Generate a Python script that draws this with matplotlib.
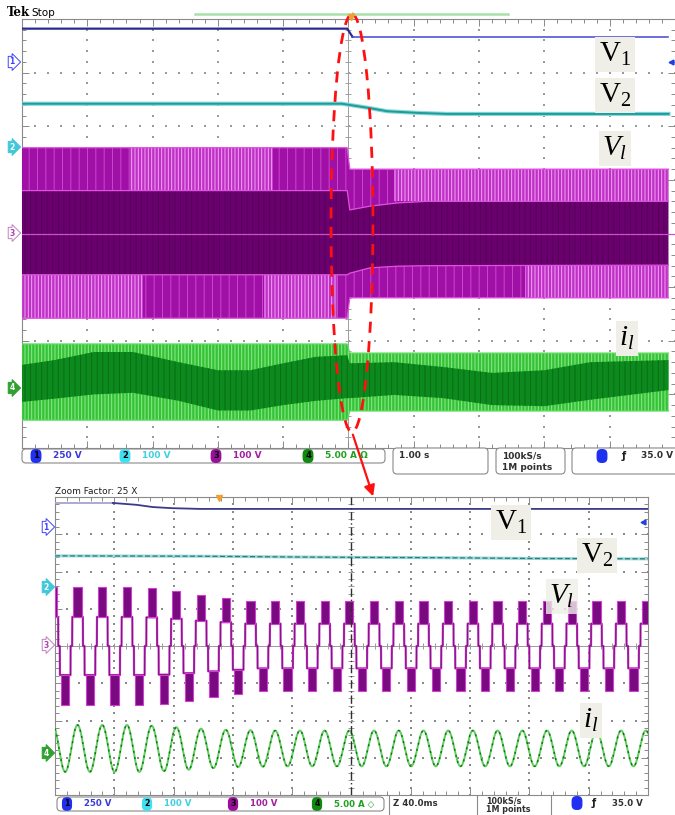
import numpy as np
import matplotlib.pyplot as plt
from matplotlib.patches import Ellipse, FancyBboxPatch

plt.rcParams['hatch.linewidth'] = 0.7
plt.rcParams['mathtext.fontset'] = 'custom'
plt.rcParams['mathtext.rm'] = 'Liberation Serif'
plt.rcParams['mathtext.it'] = 'Liberation Serif:italic'

# ---------------- overview record, 1 s/div (time in s, level in divisions)
ov_v1_t = [-5, -0.02, 0.06, 4.9]
ov_v1 = [3.82, 3.82, 3.67, 3.67]
ov_v2_t = [-5, -0.1, 0.32, 0.59, 1.05, 1.5, 4.9]
ov_v2 = [2.42, 2.42, 2.34, 2.28, 2.25, 2.23, 2.23]

ov_vl_t = [-5, -0.02, 0.02, 0.33, 0.75, 1.2, 4.9]
ov_vl_outer_hi = [1.6, 1.6, 1.2, 1.2, 1.2, 1.2, 1.2]
ov_vl_inner_hi = [0.8, 0.8, 0.44, 0.51, 0.57, 0.6, 0.6]
ov_vl_inner_lo = [-0.77, -0.77, -0.74, -0.64, -0.61, -0.6, -0.59]
ov_vl_outer_lo = [-1.58, -1.58, -1.2, -1.2, -1.2, -1.2, -1.2]
# stretches where the purple band shows light stripes
ov_vl_light_hi = [(-3.35, -1.15), (0.7, 4.9)]
ov_vl_light_lo = [(-5, -3.15), (-1.3, -0.17), (2.7, 4.9)]

ov_il_t = [-5, -4.5, -3.9, -3.3, -2.6, -2.0, -1.5, -1.0, -0.5, -0.02,
           0.02, 0.7, 1.45, 2.2, 3.0, 3.7, 4.9]
ov_il_outer_hi = [-2.06] * 10 + [-2.23] * 7
ov_il_outer_lo = [-3.48] * 10 + [-3.31] * 7
ov_il_inner_hi = [-2.45, -2.36, -2.21, -2.21, -2.40, -2.55, -2.55, -2.42, -2.30, -2.27,
                  -2.42, -2.40, -2.49, -2.60, -2.55, -2.40, -2.36]
ov_il_inner_lo = [-3.14, -3.08, -3.00, -2.97, -3.12, -3.30, -3.30, -3.20, -3.12, -3.07,
                  -3.07, -3.01, -3.07, -3.20, -3.22, -3.10, -2.92]

# ---------------- zoomed window, 40 ms/div (time in ms)
zm_v1_t = [-200, -161, -145, -134, -121, -102, 200]
zm_v1 = [3.84, 3.84, 3.79, 3.73, 3.70, 3.68, 3.68]
zm_v2_t = [-200, -100, -40, 0, 60, 120, 200]
zm_v2 = [2.42, 2.41, 2.39, 2.38, 2.37, 2.35, 2.34]
zm_first_peak = -184.8
zm_period = 1000 / 60
zm_vl_top = [1.58, 1.58, 1.58, 1.56, 1.48, 1.37, 1.29, 1.21, 1.21, 1.21, 1.21, 1.21,
             1.21, 1.21, 1.21, 1.21, 1.21, 1.21, 1.21, 1.21, 1.21, 1.21, 1.21, 1.21]
zm_vl_step = [0.78, 0.78, 0.78, 0.77, 0.73, 0.68, 0.64, 0.60, 0.60, 0.60, 0.60, 0.60,
              0.60, 0.60, 0.60, 0.60, 0.60, 0.60, 0.60, 0.60, 0.60, 0.60, 0.60, 0.60]
zm_il_amp = [0.63, 0.63, 0.63, 0.61, 0.57, 0.53, 0.50, 0.49, 0.48, 0.48, 0.48, 0.48,
             0.48, 0.48, 0.48, 0.48, 0.48, 0.48, 0.48, 0.48, 0.48, 0.48, 0.48, 0.48]
zm_il_center = -2.75

W, H = 675, 815
fig = plt.figure(figsize=(W / 100, H / 100), dpi=100)


def px_axes(x0, y0, x1, y1):
    return fig.add_axes([x0 / W, 1 - y1 / H, (x1 - x0) / W, (y1 - y0) / H])


def scope_grid(ax, xmin, xmax, xdiv, dot_color, center_color):
    ax.set_facecolor('white')
    ax.set_ylim(-4, 4)
    ax.set_xlim(xmin, xmax)
    xs = np.arange(-5, 5) * xdiv
    for xi in xs[1:]:
        if xi == 0:
            continue
        yy = np.arange(-4, 4.01, 0.2)
        ax.scatter(np.full_like(yy, xi), yy, s=0.9, c=dot_color, marker='s', lw=0, zorder=1)
    for yi in [-3, -2, -1, 1, 2, 3]:
        xx = np.arange(-5, 5.01, 0.2) * xdiv
        ax.scatter(xx, np.full_like(xx, yi), s=0.9, c=dot_color, marker='s', lw=0, zorder=1)
    ax.axhline(0, color=center_color, lw=0.7, zorder=1)
    ax.plot(np.arange(-5, 5.01, 0.2) * xdiv, np.zeros(51), ls='', marker='|',
            ms=5, mew=0.7, color=center_color, zorder=1)
    ax.plot(np.zeros(41), np.arange(-4, 4.01, 0.2), ls='', marker='_',
            ms=5, mew=0.7, color=center_color, zorder=1)
    ax.set_xticks(np.arange(-5, 6) * xdiv)
    ax.set_xticks(np.arange(-5, 5.01, 0.2) * xdiv, minor=True)
    ax.set_yticks(np.arange(-4, 5))
    ax.set_yticks(np.arange(-4, 4.01, 0.2), minor=True)
    ax.tick_params(which='both', direction='in', top=True, right=True,
                   labelbottom=False, labelleft=False, color='#8a8a8a', width=0.7)
    ax.tick_params(which='major', length=5)
    ax.tick_params(which='minor', length=3)
    for s in ax.spines.values():
        s.set_color('#8a8a8a')
        s.set_linewidth(0.8)


def band(ax, t, lo, hi, fc, hc, hatch, z):
    ax.fill_between(t, lo, hi, facecolor=fc, edgecolor='none', lw=0, zorder=z)
    if hatch:
        ax.fill_between(t, lo, hi, facecolor='none', edgecolor=hc, hatch=hatch,
                        lw=0, zorder=z + 0.1)


# ================= overview panel
ax1 = px_axes(22, 19, 675, 448)
scope_grid(ax1, -5, 4.894, 1, '#9a9a9a', '#a0a0a0')
ax1.spines['right'].set_visible(False)
ax1.axvline(0, color='#a0a0a0', lw=0.7, zorder=1)

ax1.plot(ov_v1_t[:3], ov_v1[:3], color='#2a2a90', lw=1.6, zorder=6)
ax1.plot(ov_v1_t[2:], ov_v1[2:], color='#4646d2', lw=1.1, zorder=6)
ax1.plot(ov_v2_t, ov_v2, color='#8ad6d6', lw=3.0, zorder=5)
ax1.plot(ov_v2_t, ov_v2, color='#1c9c9c', lw=1.4, zorder=6)

band(ax1, ov_vl_t, ov_vl_inner_hi, ov_vl_outer_hi, '#a010a6', '#c848cc', '||', 3)
band(ax1, ov_vl_t, ov_vl_outer_lo, ov_vl_inner_lo, '#a010a6', '#c848cc', '||', 3)
for a, b in ov_vl_light_hi:
    hi = 1.6 if b < 0 else 1.2
    lo = 0.8 if b < 0 else 0.6
    band(ax1, [a, b], [lo, lo], [hi, hi], '#c030c8', '#f0a8f0', '|||||', 3.3)
for a, b in ov_vl_light_lo:
    hi = -0.77 if b < 0 else -0.6
    lo = -1.58 if b < 0 else -1.2
    band(ax1, [a, b], [lo, lo], [hi, hi], '#c030c8', '#f0a8f0', '|||||', 3.3)
band(ax1, ov_vl_t, ov_vl_inner_lo, ov_vl_inner_hi, '#6a006e', '#540058', '|||', 3.6)
for edge in (ov_vl_outer_hi, ov_vl_inner_hi, ov_vl_inner_lo, ov_vl_outer_lo):
    ax1.plot(ov_vl_t, edge, color='#e050e0', lw=0.9, zorder=4)
ax1.axhline(0, color='#c850c8', lw=0.9, zorder=4)

band(ax1, ov_il_t, ov_il_outer_lo, ov_il_outer_hi, '#36c236', '#90ea90', '|||||', 3)
band(ax1, ov_il_t, ov_il_inner_lo, ov_il_inner_hi, '#0d8a1e', '#0a6c16', '|||', 3.6)
for edge in (ov_il_outer_hi, ov_il_outer_lo):
    ax1.plot(ov_il_t, edge, color='#60dc60', lw=0.9, zorder=4)

# ================= zoomed panel
ax2 = px_axes(55, 497, 648, 795)
scope_grid(ax2, -200, 200, 40, '#8a8a8a', '#9a9a9a')
ax2.axvline(0, color='#303030', lw=1.0, ls=(0, (6, 2, 1, 2)), zorder=7)

t = np.linspace(-200, 200, 12001)
ph = 2 * np.pi * (t - zm_first_peak) / zm_period
c = np.cos(ph)
half = np.floor((t - zm_first_peak) / (zm_period / 2) + 0.5).astype(int)
k = np.clip(half // 2, 0, len(zm_vl_top) - 1)
top = np.array(zm_vl_top)[k]
step = np.array(zm_vl_step)[k]
amp = np.array(zm_il_amp)[k]

ax2.plot(zm_v1_t[:2], zm_v1[:2], color='#a4a4cc', lw=1.3, zorder=6)
ax2.plot(zm_v1_t[1:], zm_v1[1:], color='#3a3a8a', lw=1.3, zorder=6)
ax2.plot(zm_v2_t, zm_v2, color='#9ad8d8', lw=2.2, zorder=5)
ax2.plot(zm_v2_t, zm_v2, color='#2c7a7a', lw=0.9, ls=(0, (4, 2)), zorder=6)

vl = np.sign(c) * step * (np.abs(c) > 0.2)
ax2.plot(t, vl, color='#c030c0', lw=1.6, zorder=4)
ax2.plot(t, vl, color='#6a0a6a', lw=0.5, zorder=4.1)
ax2.fill_between(t, step, top, where=c > 0.5, facecolor='#7a0a80',
                 edgecolor='#d040d0', lw=0.8, zorder=4.5)
ax2.fill_between(t, -top, -step, where=c < -0.5, facecolor='#7a0a80',
                 edgecolor='#d040d0', lw=0.8, zorder=4.5)

il = zm_il_center + amp * c
ax2.plot(t, il, color='#5ccf5c', lw=1.4, zorder=4)
ax2.plot(t, il, color='#1a6a1a', lw=1.0, ls=(0, (1.5, 3)), zorder=4.1)

# ================= overlay in pixel coordinates
ov = fig.add_axes([0, 0, 1, 1], zorder=10)
ov.set_xlim(0, W)
ov.set_ylim(H, 0)
ov.axis('off')
ov.patch.set_alpha(0)

ov.text(7, 13, 'Tek', fontsize=8.5, fontweight='bold', family='DejaVu Serif', va='center')
ov.text(31, 13, 'Stop', fontsize=7.5, va='center')
ov.plot([195, 508], [14, 14], color='#a8e0a8', lw=1.8)
ov.plot([351], [17], marker='v', ms=5, color='#f0a030')
ov.text(55, 491, 'Zoom Factor: 25 X', fontsize=6.5, va='center', color='#202020')
ov.plot([219], [498], marker='v', ms=4, color='#f0a030')


def ch_tag(x, y, n, fc, ec, tc):
    ov.text(x, y, n, fontsize=5.5, fontweight='bold', color=tc, ha='center', va='center',
            bbox=dict(boxstyle='rarrow,pad=0.15', fc=fc, ec=ec, lw=0.7))


tags = [('1', 'white', '#4040ff', '#4040ff'), ('2', '#40c8d8', '#40c8d8', 'white'),
        ('3', 'white', '#c080c0', '#b040b0'), ('4', '#30a030', '#30a030', 'white')]
for y, tg in zip([62, 147, 233, 388], tags):
    ch_tag(12, y, *tg)
for y, tg in zip([527, 587, 645, 753], tags):
    ch_tag(46, y, *tg)
ov.plot([671], [62], marker='<', ms=3.5, color='#2040e0')
ov.plot([643], [522], marker='<', ms=3.5, color='#2040e0')

# labels
lab_box = dict(boxstyle='square,pad=0.12', fc='#efefe8', ec='none')
ov.text(615, 54, r'$\mathrm{V}_{1}$', fontsize=21, ha='center', va='center', bbox=lab_box)
ov.text(615, 95, r'$\mathrm{V}_{2}$', fontsize=21, ha='center', va='center', bbox=lab_box)
ov.text(615, 148, r'$V_{l}$', fontsize=21, ha='center', va='center', bbox=lab_box)
ov.text(627, 338, r'$i_{l}$', fontsize=21, ha='center', va='center', bbox=lab_box)
ov.text(511, 522, r'$\mathrm{V}_{1}$', fontsize=21, ha='center', va='center', bbox=lab_box)
ov.text(597, 555, r'$\mathrm{V}_{2}$', fontsize=21, ha='center', va='center', bbox=lab_box)
ov.text(562, 596, r'$V_{l}$', fontsize=21, ha='center', va='center',
        bbox=dict(boxstyle='square,pad=0.12', fc='#efefe8', ec='none', alpha=0.8))
ov.text(591, 720, r'$i_{l}$', fontsize=21, ha='center', va='center', bbox=lab_box)

# red dashed ellipse and arrow
ov.add_patch(Ellipse((352, 223), 42, 418, fill=False, ec='#ff1010', lw=2.0, ls=(0, (4, 3))))
ov.annotate('', xy=(374, 499), xytext=(352, 432),
            arrowprops=dict(arrowstyle='-|>', color='#ff1010', lw=1.6, mutation_scale=16))


def box(x0, y0, x1, y1):
    ov.add_patch(FancyBboxPatch((x0, y0), x1 - x0, y1 - y0,
                                boxstyle='round,pad=0,rounding_size=4',
                                fc='white', ec='#8a8a8a', lw=0.8))


def chan_row(y, xs, vals, cols, fs):
    for x, n, v, (ec, tc) in zip(xs, ['1', '2', '3', '4'], vals, cols):
        ov.text(x, y, n, fontsize=fs - 0.5, fontweight='bold', color='black', ha='center',
                va='center', bbox=dict(boxstyle='round,pad=0.3,rounding_size=0.6',
                                       fc=ec, ec='none'))
        ov.text(x + 17, y, v, fontsize=fs, fontweight='bold', color=tc, va='center')


chan_cols = [('#2030f0', '#3a3ad8'), ('#40e0f0', '#40d0e0'),
             ('#9a109a', '#a020a0'), ('#108a10', '#20a020')]
# top status bar
box(22, 449, 385, 463)
box(393, 448, 488, 474)
box(496, 448, 565, 474)
box(572, 448, 690, 474)
chan_row(456, [36, 125, 216, 308], ['250 V', '100 V', '100 V', '5.00 A Ω'], chan_cols, 6.5)
ov.text(399, 456, '1.00 s', fontsize=6.5, fontweight='bold', color='#303030', va='center')
ov.text(502, 456, '100kS/s', fontsize=6.5, fontweight='bold', color='#303030', va='center')
ov.text(502, 467, '1M points', fontsize=6.5, fontweight='bold', color='#303030', va='center')
ov.text(602, 456, '1', fontsize=6, fontweight='bold', color='#2030f0', ha='center', va='center',
        bbox=dict(boxstyle='round,pad=0.3,rounding_size=0.6', fc='#2030f0', ec='none'))
ov.text(622, 456, 'ƒ', fontsize=7, fontweight='bold', color='#202020', va='center')
ov.text(641, 456, '35.0 V', fontsize=6.5, fontweight='bold', color='#303030', va='center')

# bottom status bar
box(57, 797, 384, 811)
for xs in [389, 477, 551]:
    ov.plot([xs, xs], [796, 815], color='#8a8a8a', lw=0.8)
chan_row(804, [67, 147, 233, 317], ['250 V', '100 V', '100 V', '5.00 A ◇'], chan_cols, 6.2)
ov.text(393, 803, 'Z 40.0ms', fontsize=6.2, fontweight='bold', color='#303030', va='center')
ov.text(486, 801, '100kS/s', fontsize=5.8, fontweight='bold', color='#303030', va='center')
ov.text(486, 809.5, '1M points', fontsize=5.8, fontweight='bold', color='#303030', va='center')
ov.text(577, 803, '1', fontsize=6, fontweight='bold', color='#2030f0', ha='center', va='center',
        bbox=dict(boxstyle='round,pad=0.3,rounding_size=0.6', fc='#2030f0', ec='none'))
ov.text(592, 803, 'ƒ', fontsize=7, fontweight='bold', color='#202020', va='center')
ov.text(612, 803, '35.0 V', fontsize=6.2, fontweight='bold', color='#303030', va='center')

fig.savefig('out.png', dpi=100)
